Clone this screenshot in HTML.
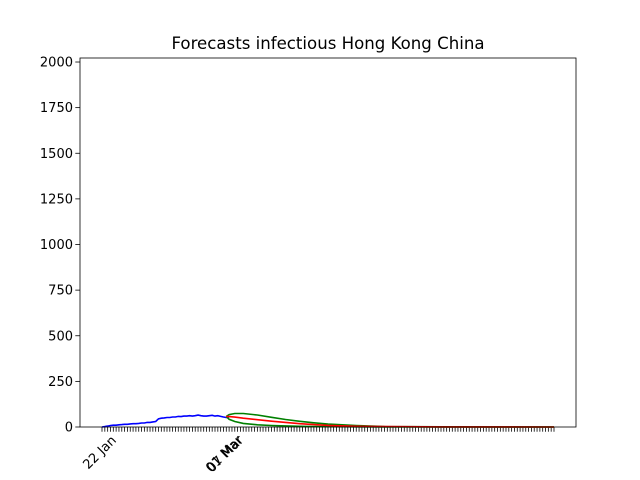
<!DOCTYPE html>
<html><head><meta charset="utf-8"><style>
body{margin:0;background:#fff;}
svg{display:block;font-family:"DejaVu Sans","Liberation Sans",sans-serif;}
</style></head><body>
<svg id="c" width="640" height="480">
<rect width="640" height="480" fill="#fff"/>
<text x="328" y="49" font-size="16.6" text-anchor="middle">Forecasts infectious Hong Kong China</text>
<g id="plot"></g>
</svg>
<script>
const observed = [0,2,5,8,10,10,12,13,15,15,17,18,18,20,22,22,25,25,28,30,45,48,50,52,52,55,55,58,57,60,60,62,60,62,65,62,60,60,62,64,60,62,58,55,52,50];
const fcDays = [44,45,47,50,55,60,65,70,75,80,90,100,120,160];
const fcMid = [58,57,54,48,40,32,25,18,13,9,4,2,0.5,0];
const fcUpper = [58,68,74,74,66,53,41,31,23,16,8,3,1,0];
const fcLower = [58,42,30,20,12,8,6,4,3,2,1,0.5,0,0];
const yTicks = [0,250,500,750,1000,1250,1500,1750,2000];
const xLabels = [[0,"22 Jan"],[44.6,"01 Mar"],[45,"07 Mar"]];
const nDays = 161;

const L=80,R=576,T=58,B=427,YMAX=2022;
const X=d=>102+d*2.825;
const Y=v=>B-(v/YMAX)*(B-T);
const ns="http://www.w3.org/2000/svg";
const g=document.getElementById('plot');
function mk(t,a){const e=document.createElementNS(ns,t);for(const k in a)e.setAttribute(k,a[k]);g.appendChild(e);return e;}

for(const v of yTicks){
  const tk=mk('line',{x1:L-4.7,x2:L,y1:Y(v),y2:Y(v),stroke:'#000','stroke-width':0.8});
  
  
  const t=mk('text',{x:L-7,y:Y(v)+4.5,'font-size':13,'text-anchor':'end'});
  t.textContent=v;
  
  
}
for(let d=0;d<nDays;d++){
  const tk=mk('line',{x1:X(d),x2:X(d),y1:B,y2:B+4.7,stroke:'#000','stroke-width':0.8});
  
  
}
for(const [d,s] of xLabels){
  const ax=X(d)+15, ay=B+14;
  const t=mk('text',{x:ax,y:ay,'font-size':13,'text-anchor':'end',transform:`rotate(-45 ${ax} ${ay})`});
  t.textContent=s;
  
  
}
const line=(xs,ys,col,name)=>{
  const p=mk('path',{d:xs.map((x,i)=>(i?'L':'M')+X(x).toFixed(1)+' '+Y(ys[i]).toFixed(1)).join(' '),fill:'none',stroke:col,'stroke-width':1.6});
  
  
};
line(observed.map((_,i)=>i),observed,'#0000ff','observed-line');
line(fcDays,fcLower,'#008000','forecast-lower');
line(fcDays,fcUpper,'#008000','forecast-upper');
line(fcDays,fcMid,'#ff0000','forecast-mid');
const fr=mk('rect',{x:L,y:T,width:R-L,height:B-T,fill:'none',stroke:'#000','stroke-width':0.8});


</script>
</body></html>
